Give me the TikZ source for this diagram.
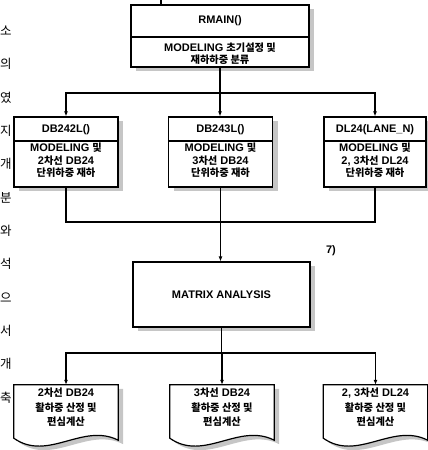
\documentclass[tikz,border=0pt]{standalone}
\usepackage{fontspec}
\setmainfont{Liberation Sans}
\newfontfamily\krfont{Noto Sans CJK KR}[Scale=0.93]
\newfontfamily\krside{Noto Sans CJK KR}
\newcommand\kr[1]{{\krfont #1}}
\usetikzlibrary{arrows.meta,shadows,calc}
\tikzset{
  lbl/.style={font=\fontsize{11}{12.5}\selectfont\bfseries, align=center, inner sep=0pt},
  doclbl/.style={font=\fontsize{11}{14.5}\selectfont\bfseries, align=center, inner sep=0pt},
  boxshadow/.style={drop shadow={shadow xshift=5pt, shadow yshift=-4pt, fill=gray!45, opacity=1}},
  frame/.style={draw, line width=1.2pt, fill=white, boxshadow, inner sep=0pt},
  wire/.style={line width=1.2pt},
  arr/.style={wire, -{Latex[length=5pt,width=4pt]}},
  sidechar/.style={font=\krside\fontsize{12.5}{12.5}\selectfont, inner sep=0pt},
  docspace/.style={minimum width=104pt, minimum height=55pt, inner sep=0pt},
}
\newcommand\docshape[1]{%
  \draw[line width=1.2pt, fill=white, boxshadow]
    ($(#1.south west)+(0,-2)$) -- (#1.north west) -- (#1.north east) -- (#1.south east)
    .. controls ($(#1.south west)+(69,-18)$) and ($(#1.south west)+(34,22)$) .. ($(#1.south west)+(0,-2)$) -- cycle;}
\begin{document}
\begin{tikzpicture}[x=1pt,y=-1pt]
\useasboundingbox (0,0) rectangle (428,450);

% text of the neighbouring page column at the left edge
\foreach \c [count=\i] in {소,의,였,지,개,분,와,석,으,서,개,축}
  \node[sidechar] (side\i) at (6,{31+33.3*(\i-1)}) {\c};

% RMAIN
\node[frame, minimum width=178pt, minimum height=62pt] (rmain) at (220,36) {};
\coordinate (rdiv) at (220,37);
\draw[wire] (rmain.west |- rdiv) -- (rmain.east |- rdiv);
\node[lbl] (rmaint) at (220,21) {RMAIN()};
\node[lbl] (rmainb) at (220,53.5) {MODELING \kr{초기설정 및}\\\kr{재하하중 분류}};
\coordinate (topin) at (161,0);
\draw[wire] (topin) -- (topin |- rmain.north);

% second row
\node[frame, minimum width=104pt, minimum height=70pt] (db242) at (66,152) {};
\node[frame, minimum width=104pt, minimum height=70pt] (db243) at (220.5,152) {};
\node[frame, minimum width=102pt, minimum height=70pt] (dl24) at (375,152) {};
\coordinate (ldiv) at (0,141);
\foreach \b in {db242,db243,dl24}
  \draw[wire] (\b.west |- ldiv) -- (\b.east |- ldiv);
\node[lbl] (db242t) at (66,130) {DB242L()};
\node[lbl] (db243t) at (220.5,130) {DB243L()};
\node[lbl] (dl24t) at (375,130) {DL24(LANE\_N)};
\node[lbl] (db242b) at (66,160.5) {MODELING \kr{및}\\2\kr{차선} DB24\\\kr{단위하중 재하}};
\node[lbl] (db243b) at (220.5,160.5) {MODELING \kr{및}\\3\kr{차선} DB24\\\kr{단위하중 재하}};
\node[lbl] (dl24b) at (375,160.5) {MODELING \kr{및}\\2, 3\kr{차선} DL24\\\kr{단위하중 재하}};

\coordinate (split1) at (220,93);
\draw[wire] (rmain.south) -- (split1);
\draw[arr] (split1) -| (db242.north);
\draw[arr] (split1) -| (dl24.north);
\draw[arr] (split1) -- (split1 |- db243.north);

% matrix analysis
\node[frame, minimum width=177pt, minimum height=65pt, lbl] (matrix) at (221.5,294.5) {MATRIX ANALYSIS};
\node[lbl] (note7) at (331,251) {7)};
\coordinate (join1) at (220.5,222);
\draw[wire] (db242.south) |- (join1);
\draw[wire] (dl24.south) |- (join1);
\draw[wire] (db243.south) -- (join1);
\draw[arr] (join1) -- (join1 |- matrix.north);

% documents
\node[docspace] (doc1) at (66,412.5) {};
\node[docspace] (doc2) at (222,412.5) {};
\node[docspace] (doc3) at (375.5,412.5) {};
\docshape{doc1}
\docshape{doc2}
\docshape{doc3}
\node[doclbl] (doc1t) at (66,407.5) {2\kr{차선} DB24\\\kr{활하중 산정 및}\\\kr{편심계산}};
\node[doclbl] (doc2t) at (222,407.5) {3\kr{차선} DB24\\\kr{활하중 산정 및}\\\kr{편심계산}};
\node[doclbl] (doc3t) at (375.5,407.5) {2, 3\kr{차선} DL24\\\kr{활하중 산정 및}\\\kr{편심계산}};

\coordinate (split2) at (222,353);
\draw[wire] (matrix.south) -- (matrix.south |- split2);
\draw[arr] (split2) -| (doc1.north);
\draw[arr] (split2) -| (doc3.north);
\draw[arr] (split2) -- (doc2.north);
\end{tikzpicture}
\end{document}
